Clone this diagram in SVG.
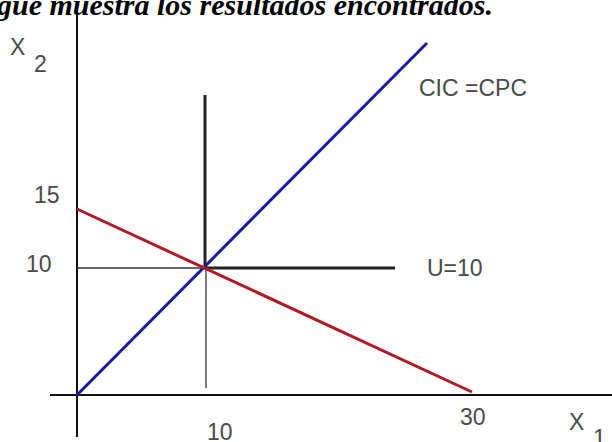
<svg xmlns="http://www.w3.org/2000/svg" width="612" height="442" viewBox="0 0 612 442">
<style>
.t{font-family:"Liberation Sans",Arial,sans-serif;font-size:23px;fill:#4a4a4a}
.ax{stroke:#111;stroke-width:2;fill:none}
.thin{stroke:#333;stroke-width:1.3;fill:none}
.thick{stroke:#222;stroke-width:3;fill:none}
</style>
<rect width="612" height="442" fill="#fff"/>
<text x="-3" y="15" font-family="'Liberation Serif','Times New Roman',serif" font-size="30" font-weight="bold" font-style="italic" fill="#000">gue muestra los resultados encontrados.</text>
<g id="axes">
<line class="ax" x1="77" y1="13" x2="77" y2="437"/>
<line class="ax" x1="50" y1="395" x2="612" y2="395"/>
</g>
<g id="connectors">
<line class="thin" x1="77" y1="268" x2="205" y2="268"/>
<line class="thick" x1="205" y1="268" x2="395" y2="268"/>
<line class="thin" x1="206" y1="268" x2="206" y2="388"/>
<line class="thick" x1="205" y1="95" x2="205" y2="268"/>
<line id="cpc" x1="77" y1="395" x2="427" y2="43" stroke="#1a1aa0" stroke-width="3"/>
<line id="budget" x1="77" y1="209" x2="472" y2="392" stroke="#b01a22" stroke-width="3"/>
</g>
<g id="labels">
<text class="t" x="10" y="55">X</text>
<text class="t" x="34" y="72">2</text>
<text class="t" x="34" y="203">15</text>
<text class="t" x="26" y="272">10</text>
<text class="t" x="419" y="96">CIC =CPC</text>
<text class="t" x="427" y="276">U=10</text>
<text class="t" x="207" y="440">10</text>
<text class="t" x="460" y="425">30</text>
<text class="t" x="569" y="430">X</text>
<text class="t" x="593" y="446">1</text>
</g>
</svg>
